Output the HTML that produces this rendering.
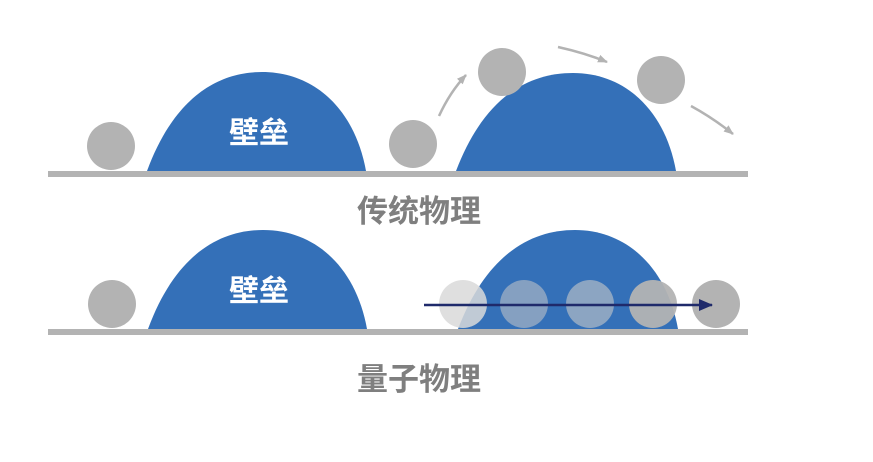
<!DOCTYPE html>
<html><head><meta charset="utf-8"><style>html,body{margin:0;padding:0;background:#fff}svg{display:block}</style></head>
<body>
<svg width="873" height="462" viewBox="0 0 873 462" xmlns="http://www.w3.org/2000/svg" font-family="Liberation Sans, Noto Sans CJK SC, sans-serif">
<defs>
<marker id="ga" markerWidth="10" markerHeight="8" refX="9" refY="4" orient="auto" markerUnits="userSpaceOnUse"><path d="M0,0 L10,4 L0,8 Z" fill="#b3b3b3"/></marker>
<marker id="na" markerWidth="14" markerHeight="12" refX="13" refY="6" orient="auto" markerUnits="userSpaceOnUse"><path d="M0,0 L14,6 L0,12 Z" fill="#1f2a6b"/></marker>
</defs>
<!-- top -->
<path d="M147,171 C175,95 220,72 262,72 C315,72 355,110 366,171 Z" fill="#3470b8"/>
<path d="M456,171 C485,95 530,73 573,73 C625,73 665,110 676,171 Z" fill="#3470b8"/>
<rect x="48" y="171" width="700" height="6" fill="#b3b3b3"/>
<circle cx="111" cy="146" r="24" fill="#b3b3b3"/>
<circle cx="413" cy="144" r="24" fill="#b3b3b3"/>
<circle cx="502" cy="72" r="24" fill="#b3b3b3"/>
<circle cx="661" cy="80" r="24" fill="#b3b3b3"/>
<path d="M439,116 Q450,92 466,75" stroke="#b3b3b3" stroke-width="2.5" fill="none" marker-end="url(#ga)"/>
<path d="M558,47 Q585,53 607,62" stroke="#b3b3b3" stroke-width="2.5" fill="none" marker-end="url(#ga)"/>
<path d="M691,106 Q713,118 733,134" stroke="#b3b3b3" stroke-width="2.5" fill="none" marker-end="url(#ga)"/>
<text x="259" y="143" font-size="30" font-weight="bold" fill="#fff" text-anchor="middle">壁垒</text>
<text x="419" y="222" font-size="31" font-weight="bold" fill="#7f7f7f" text-anchor="middle">传统物理</text>
<!-- bottom -->
<path d="M148,329 C176,253 221,230 263,230 C316,230 356,268 367,329 Z" fill="#3470b8"/>
<path d="M458,329 C487,253 532,230 575,230 C627,230 667,268 678,329 Z" fill="#3470b8"/>
<rect x="48" y="329" width="700" height="6" fill="#b3b3b3"/>
<circle cx="112" cy="304" r="24" fill="#b3b3b3"/>
<circle cx="463" cy="304" r="24" fill="#d9d9d9" fill-opacity="0.85"/>
<circle cx="524" cy="304" r="24" fill="#c8c8c8" fill-opacity="0.55"/>
<circle cx="590" cy="304" r="24" fill="#c8c8c8" fill-opacity="0.6"/>
<circle cx="653" cy="304" r="24" fill="#b3b3b3" fill-opacity="0.95"/>
<circle cx="716" cy="304" r="24" fill="#b3b3b3"/>
<line x1="424" y1="305" x2="712" y2="305" stroke="#1f2a6b" stroke-width="2.5" marker-end="url(#na)"/>
<text x="259" y="301" font-size="30" font-weight="bold" fill="#fff" text-anchor="middle">壁垒</text>
<text x="419" y="390" font-size="31" font-weight="bold" fill="#7f7f7f" text-anchor="middle">量子物理</text>
</svg>
</body></html>
